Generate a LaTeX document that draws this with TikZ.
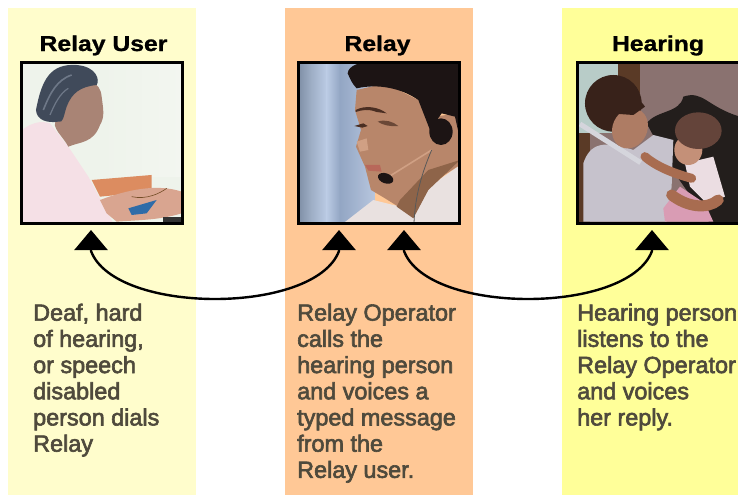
\documentclass[tikz,border=0pt]{standalone}
\usepackage{fontspec}
\usetikzlibrary{arrows.meta}
\setmainfont{Liberation Sans}
\newfontfamily\bodyface[FakeBold=2.6]{Liberation Sans}
\newfontfamily\titleface[FakeStretch=1.15,FakeBold=1.0]{Liberation Sans Bold}
\definecolor{panelA}{HTML}{FFFDCC}
\definecolor{panelB}{HTML}{FFC896}
\definecolor{panelC}{HTML}{FFFF99}
\definecolor{bodyink}{HTML}{4F4A3C}
\definecolor{aBack}{HTML}{EEF3EB}
\definecolor{aLight}{HTML}{F3F6F0}
\definecolor{aOrange}{HTML}{DC8C60}
\definecolor{aShirt}{HTML}{F5E0E6}
\definecolor{aFace}{HTML}{A98475}
\definecolor{aHair}{HTML}{404A5A}
\definecolor{aStreak}{HTML}{6E7888}
\definecolor{aArm}{HTML}{D9A590}
\definecolor{aBlue}{HTML}{2F6CA8}
\definecolor{bDark}{HTML}{7F8FA6}
\definecolor{bMid}{HTML}{9FAFC6}
\definecolor{bPale}{HTML}{BBCBE4}
\definecolor{bDeep}{HTML}{93A6C4}
\definecolor{bSky}{HTML}{B7C6DE}
\definecolor{bShirt}{HTML}{E9E1E0}
\definecolor{bSkin}{HTML}{B8866A}
\definecolor{bNeck}{HTML}{8E6449}
\definecolor{bHair}{HTML}{1C1414}
\definecolor{bBrow}{HTML}{4A2E22}
\definecolor{bNose}{HTML}{D0A084}
\definecolor{bLip}{HTML}{B8685A}
\definecolor{cWall}{HTML}{8A7270}
\definecolor{cWin}{HTML}{B8CCC8}
\definecolor{cWood}{HTML}{5A3A26}
\definecolor{cDark}{HTML}{231E1C}
\definecolor{cShirt}{HTML}{C6C2CC}
\definecolor{cPhone}{HTML}{D5D5DC}
\definecolor{cHair}{HTML}{38221A}
\definecolor{cFace}{HTML}{AE7C64}
\definecolor{cDress}{HTML}{EBDDE2}
\definecolor{cPink}{HTML}{D99CB4}
\definecolor{cBabyFace}{HTML}{C49078}
\definecolor{cBabyHair}{HTML}{64443A}
\definecolor{cArm}{HTML}{A86C50}
\tikzset{
  panelbox/.style={inner sep=0pt,outer sep=0pt,anchor=north west,minimum height=487pt},
  photobox/.style={draw=black,line width=3.2pt,inner sep=0pt,outer sep=0pt,anchor=north west,minimum height=161pt},
  headline/.style={font=\titleface\fontsize{21.5}{24}\selectfont,text=black,anchor=base,inner sep=0pt},
  bodytext/.style={font=\bodyface\fontsize{23.4}{26.2}\selectfont,text=bodyink,align=left,anchor=north west,inner sep=0pt},
  relaycurve/.style={draw=black,line width=2.4pt,{Triangle[width=33pt,length=20pt]}-{Triangle[width=33pt,length=20pt]}},
  zoomA/.style={x=0.3333pt,y=-0.3333pt},
}
\begin{document}
\begin{tikzpicture}[x=1pt,y=-1pt]
\useasboundingbox (0,0) rectangle (738,496);
% panels
\node[panelbox,fill=panelA,minimum width=188pt] (panelUser) at (8,8) {};
\node[panelbox,fill=panelB,minimum width=188pt] (panelRelay) at (285,8) {};
\node[panelbox,fill=panelC,minimum width=176pt] (panelHear) at (562,8) {};
% headings
\node[headline] (titleUser) at (103.5,51) {Relay User};
\node[headline] (titleRelay) at (377.5,51) {Relay};
\node[headline] (titleHear) at (658,51) {Hearing};
% photo 1
\begin{scope}
\clip (21,62) rectangle (183,224);
\begin{scope}[zoomA]
\fill[aBack] (60,180) rectangle (555,680);
\shade[left color=aBack,right color=aLight] (300,185) rectangle (550,530);
\fill[aOrange] (275,540) -- (455,525) -- (455,575) -- (300,590) -- cycle;
\fill[aShirt] (60,395) .. controls (90,370) and (120,360) .. (150,370) -- (205,440) -- (265,530) -- (340,670) -- (60,670) -- cycle;
\fill[aFace] (205,290) .. controls (260,230) and (300,240) .. (305,290) .. controls (310,330) and (315,350) .. (300,375) .. controls (280,430) and (240,425) .. (205,440) .. controls (190,410) and (150,380) .. (170,360) -- cycle;
\fill[aHair] (108,330) .. controls (125,240) and (150,190) .. (230,195) .. controls (290,200) and (300,240) .. (290,255) .. controls (240,260) and (215,280) .. (200,320) .. controls (190,350) and (190,370) .. (175,365) .. controls (140,370) and (110,360) .. (108,330) -- cycle;
\draw[aStreak,line width=1.6pt] (130,330) .. controls (150,280) and (170,240) .. (215,225);
\draw[aStreak,line width=1.2pt] (150,345) .. controls (165,310) and (180,280) .. (205,265);
\fill[aArm] (300,600) .. controls (380,570) and (470,550) .. (545,575) -- (545,640) .. controls (480,660) and (420,660) .. (350,665) -- (320,640) -- cycle;
\fill[aBlue] (385,625) -- (470,600) -- (440,640) -- (395,645) -- cycle;
\fill[black!80] (490,650) rectangle (550,670);
\draw[brown!60!black,line width=.6pt] (395,590) .. controls (440,600) and (480,580) .. (500,565);
\end{scope}
\end{scope}
% photo 2
\begin{scope}
\clip (298,62) rectangle (460,224);
\begin{scope}[shift={(285,50)},zoomA]
\fill[bMid] (40,30) rectangle (270,520);
\shade[left color=bDark,right color=bMid] (40,30) rectangle (80,520);
\shade[left color=bMid,right color=bPale] (80,30) rectangle (125,520);
\shade[left color=bPale,right color=bDeep] (125,30) rectangle (165,520);
\shade[left color=bDeep,right color=bSky] (165,30) rectangle (270,520);
\fill[bShirt] (175,520) -- (265,450) -- (345,470) -- (420,420) -- (525,345) -- (525,520) -- cycle;
\fill[bSkin] (210,180) -- (215,120) -- (300,100) -- (400,150) -- (445,200) -- (525,190) -- (525,345) -- (440,400) -- (390,490) -- (340,470) -- (300,445) -- (258,420) -- (240,350) -- (213,290) -- (228,240) -- cycle;
\fill[bNeck] (345,450) -- (430,360) -- (525,330) -- (430,420) -- (385,505) -- (335,470) -- cycle;
\fill[bNose] (215,275) -- (245,265) -- (250,300) -- (225,305) -- cycle;
\fill[bHair] (188,70) .. controls (190,45) and (230,35) .. (260,35) -- (530,35) -- (530,290) -- (510,200) -- (470,190) -- (435,240) -- (400,150) .. controls (350,115) and (280,100) .. (215,115) .. controls (200,100) and (195,85) .. (188,70) -- cycle;
\fill[bBrow] (212,180) .. controls (240,165) and (280,170) .. (305,190) -- (275,186) .. controls (250,176) and (230,180) .. (212,186) -- cycle;
\fill[bBrow] (208,228) -- (235,220) -- (248,228) -- (232,233) -- cycle;
\fill[bBrow,opacity=.7] (278,215) .. controls (300,207) and (325,215) .. (340,228) .. controls (315,230) and (295,226) .. (278,215) -- cycle;
\fill[bLip] (240,345) -- (285,345) -- (290,365) -- (250,362) -- cycle;
\draw[bNose,line width=1.6pt] (315,378) -- (440,300);
\fill[bHair] (468,245) ellipse [x radius=35,y radius=40];
\fill[bHair,rotate around={-20:(302,385)}] (302,385) ellipse [x radius=24,y radius=15];
\draw[black!65,line width=.8pt] (440,300) .. controls (410,370) and (390,440) .. (387,520);
\end{scope}
\end{scope}
% photo 3
\begin{scope}
\clip (577,62) rectangle (738,224);
\begin{scope}[shift={(370,0)},zoomA]
\fill[cWall] (620,185) rectangle (1110,670);
\fill[cWin] (625,190) rectangle (745,400);
\fill[cWood] (745,190) rectangle (810,280);
\fill[cDark] (830,370) .. controls (860,330) and (930,340) .. (940,290) .. controls (1000,270) and (1010,320) .. (1110,350) -- (1110,670) -- (1020,670) -- (900,500) -- cycle;
\fill[cWood] (625,400) rectangle (660,665);
\fill[cShirt] (640,490) .. controls (660,430) and (700,420) .. (790,450) -- (850,405) -- (910,420) -- (905,560) -- (890,665) -- (640,665) -- cycle;
\draw[cPhone,line width=5pt] (630,372) -- (812,488);
\fill[cHair] (730,310) ellipse [x radius=85,y radius=85];
\fill[cFace,rotate around={-25:(780,385)}] (780,385) ellipse [x radius=52,y radius=62];
\fill[cHair] (720,340) .. controls (750,290) and (800,280) .. (825,320) -- (790,345) -- cycle;
\fill[cDress] (945,490) -- (1030,470) -- (1065,590) -- (1010,610) -- (960,560) -- cycle;
\fill[cPink] (880,625) -- (930,560) -- (1005,610) -- (1030,665) -- (885,665) -- cycle;
\fill[cBabyFace] (955,450) ellipse [x radius=42,y radius=45];
\fill[cBabyHair] (985,392) ellipse [x radius=70,y radius=55];
\draw[cArm,line width=9pt,line cap=round] (825,470) .. controls (860,500) and (910,520) .. (965,535);
\draw[cArm,line width=11pt,line cap=round] (905,585) .. controls (950,620) and (1010,630) .. (1045,600);
\end{scope}
\end{scope}
% frames
\node[photobox,minimum width=161pt] (photoUser) at (21.5,62.5) {};
\node[photobox,minimum width=161pt] (photoRelay) at (298.5,62.5) {};
\node[photobox,minimum width=165pt] (photoHear) at (577.5,62.5) {};
% connectors
\coordinate (tipUser) at (91,230);
\coordinate (tipRelayL) at (339,230);
\coordinate (tipRelayR) at (404,230);
\coordinate (tipHear) at (652,230);
\draw[relaycurve] (tipUser) -- ++(0,21) .. controls +(24,64) and +(-24,64) .. ([yshift=-21pt]tipRelayL) -- (tipRelayL);
\draw[relaycurve] (tipRelayR) -- ++(0,21) .. controls +(24,64) and +(-24,64) .. ([yshift=-21pt]tipHear) -- (tipHear);
% descriptions
\node[bodytext] (textUser) at (33,303.5) {Deaf, hard\\of hearing,\\or speech\\disabled\\person dials\\Relay};
\node[bodytext] (textRelay) at (297,303.5) {Relay Operator\\calls the\\hearing person\\and voices a\\typed message\\from the\\Relay user.};
\node[bodytext] (textHear) at (577,303.5) {Hearing person\\listens to the\\Relay Operator\\and voices\\her reply.};
\end{tikzpicture}
\end{document}
